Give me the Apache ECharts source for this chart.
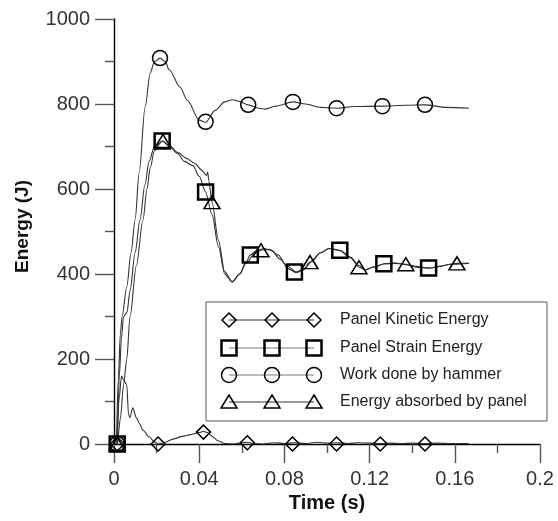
<!DOCTYPE html>
<html>
<head>
<meta charset="utf-8">
<title>Energy history</title>
<script src="https://cdn.jsdelivr.net/npm/echarts@6/dist/echarts.min.js"></script>
<style>
  html, body { margin: 0; padding: 0; background: #fff; }
  #chart { width: 558px; height: 521px; }
</style>
</head>
<body>
<div id="chart"></div>
<script>
// Time (s) / energy (J) traces
const kineticCurve = [
  [0, 0], [0.001, 0], [0.0025, 110], [0.0035, 160], [0.0045, 150], [0.006, 140],
  [0.0068, 70], [0.0075, 62], [0.0088, 85], [0.0105, 62], [0.012, 48], [0.0135, 33],
  [0.0165, 17], [0.019, 5], [0.0207, 0], [0.024, 4], [0.028, 12], [0.032, 18],
  [0.036, 22], [0.040, 27], [0.042, 30], [0.044, 27], [0.046, 18], [0.049, 7],
  [0.052, 1], [0.056, 0], [0.060, 3], [0.0626, 4], [0.066, 1], [0.070, 0],
  [0.075, 3], [0.080, 1], [0.085, 3], [0.090, 1], [0.095, 4], [0.100, 2],
  [0.105, 3], [0.110, 1], [0.115, 3], [0.120, 2], [0.125, 1], [0.130, 2],
  [0.135, 1], [0.140, 2], [0.146, 1], [0.152, 2], [0.158, 1], [0.1666, 1]
];
const strainCurve = [
  [0, 0], [0.0015, 0], [0.003, 60], [0.0045, 140], [0.006, 200], [0.0075, 299],
  [0.0105, 420], [0.0136, 527], [0.0155, 600], [0.017, 650], [0.019, 690],
  [0.0226, 713], [0.026, 700], [0.030, 683], [0.033, 665], [0.037, 655],
  [0.040, 630], [0.043, 593], [0.046, 540], [0.049, 465], [0.052, 400],
  [0.0555, 381], [0.059, 400], [0.062, 428], [0.064, 445], [0.067, 455],
  [0.0705, 460], [0.074, 455], [0.078, 435], [0.082, 412], [0.0855, 403],
  [0.089, 410], [0.093, 430], [0.097, 450], [0.101, 460], [0.106, 456],
  [0.111, 440], [0.115, 420], [0.118, 410], [0.122, 416], [0.127, 424],
  [0.132, 426], [0.137, 422], [0.142, 416], [0.148, 414], [0.153, 418],
  [0.158, 423], [0.1666, 425]
];
const hammerCurve = [
  [0, 0], [0.001, 0], [0.002, 150], [0.003, 260], [0.0038, 300], [0.006, 370],
  [0.008, 450], [0.0099, 527], [0.0118, 638], [0.0146, 793], [0.017, 873],
  [0.019, 900], [0.0216, 908], [0.024, 900], [0.026, 880], [0.031, 840],
  [0.0344, 809], [0.040, 762], [0.043, 757], [0.0475, 785], [0.052, 805],
  [0.0555, 810], [0.059, 806], [0.063, 798], [0.068, 790], [0.071, 788],
  [0.076, 795], [0.084, 805], [0.090, 800], [0.097, 792], [0.1045, 790],
  [0.113, 794], [0.126, 795], [0.137, 797], [0.146, 798], [0.156, 792],
  [0.1666, 790]
];
const absorbedCurve = [
  [0, 0], [0.0015, 0], [0.0025, 160], [0.0035, 250], [0.0045, 300], [0.0061, 310],
  [0.0075, 360], [0.0099, 450], [0.0122, 527], [0.0145, 610], [0.0165, 665],
  [0.019, 700], [0.023, 713], [0.026, 702], [0.030, 686], [0.034, 672],
  [0.038, 660], [0.041, 645], [0.0435, 632], [0.044, 640], [0.0445, 620],
  [0.046, 569], [0.049, 480], [0.052, 405], [0.0555, 382], [0.059, 400],
  [0.062, 425], [0.066, 448], [0.069, 456], [0.073, 458], [0.077, 445],
  [0.081, 420], [0.0855, 405], [0.089, 412], [0.092, 428], [0.097, 450],
  [0.101, 460], [0.106, 455], [0.111, 438], [0.115, 416], [0.118, 410],
  [0.122, 417], [0.127, 424], [0.132, 425], [0.137, 423], [0.142, 418],
  [0.148, 414], [0.153, 418], [0.158, 423], [0.161, 425], [0.1666, 425]
];

// Marker positions along each trace
const kineticMarks = [[0.0015, 0], [0.0207, 0], [0.042, 28], [0.0626, 3], [0.0838, 0], [0.1045, 0], [0.125, 0], [0.146, 0]];
const strainMarks = [[0.0015, 0], [0.0226, 713], [0.043, 593], [0.064, 445], [0.0847, 405], [0.106, 456], [0.1267, 424], [0.1477, 414]];
const hammerMarks = [[0.0015, 0], [0.0216, 908], [0.043, 758], [0.063, 798], [0.084, 805], [0.1045, 790], [0.126, 795], [0.146, 798]];
const absorbedMarks = [[0.0015, 0], [0.023, 713], [0.046, 569], [0.069, 456], [0.092, 428], [0.115, 416], [0.137, 423], [0.161, 425]];

const seriesNames = ['Panel Kinetic Energy', 'Panel Strain Energy', 'Work done by hammer', 'Energy absorbed by panel'];
const xTicks = { min: 0, max: 0.2, step: 0.04 };
const yTicks = { min: 0, max: 1000, step: 200 };

const FONT = '"Liberation Sans", Arial, sans-serif';
const LINE = '#333';

const chart = echarts.init(document.getElementById('chart'), null, { renderer: 'canvas' });

function traceSeries(data) {
  return {
    type: 'line', data: data, showSymbol: false, smooth: 0.3, smoothMonotone: 'x',
    lineStyle: { color: LINE, width: 1.1 }, z: 2, silent: true
  };
}
function markSeries(data, symbol, size, bw) {
  return {
    type: 'scatter', data: data, symbol: symbol, symbolSize: size,
    itemStyle: { color: 'rgba(0,0,0,0)', borderColor: '#000', borderWidth: bw, opacity: 1 },
    z: 4, silent: true
  };
}

// Hand-built legend: three hollow markers joined by a line, then the label
const legendRows = [
  { y: 320, kind: 'diamond' },
  { y: 348, kind: 'square' },
  { y: 375, kind: 'circle' },
  { y: 402, kind: 'triangle' }
];
const legendX = [229, 272, 314];
const legendGraphics = [{
  type: 'rect', shape: { x: 206, y: 302, width: 341, height: 119 },
  style: { fill: '#fff', stroke: '#555', lineWidth: 1 }, z: 10
}];
legendRows.forEach(function (row, i) {
  legendGraphics.push({
    type: 'line', shape: { x1: legendX[0], y1: row.y, x2: legendX[2], y2: row.y },
    style: { stroke: i === 1 || i === 2 ? '#777' : '#333', lineWidth: 1.1 }, z: 11
  });
  legendX.forEach(function (cx) {
    const st = { fill: 'rgba(0,0,0,0)', stroke: '#000', lineWidth: 1.5 };
    if (row.kind === 'diamond') {
      legendGraphics.push({ type: 'polygon', shape: { points: [[cx, row.y - 7], [cx + 7, row.y], [cx, row.y + 7], [cx - 7, row.y]] }, style: st, z: 12 });
    } else if (row.kind === 'square') {
      legendGraphics.push({ type: 'rect', shape: { x: cx - 7.5, y: row.y - 7.5, width: 15, height: 15 }, style: Object.assign({}, st, { lineWidth: 2.5 }), z: 12 });
    } else if (row.kind === 'circle') {
      legendGraphics.push({ type: 'circle', shape: { cx: cx, cy: row.y, r: 7.5 }, style: st, z: 12 });
    } else {
      legendGraphics.push({ type: 'polygon', shape: { points: [[cx, row.y - 7], [cx + 8, row.y + 6], [cx - 8, row.y + 6]] }, style: st, z: 12 });
    }
  });
  legendGraphics.push({
    type: 'text', x: 340, y: row.y,
    style: { text: seriesNames[i], fill: '#222', font: '16px ' + FONT, verticalAlign: 'middle', textAlign: 'left' },
    z: 12
  });
});

const axisCommon = {
  axisLine: { show: true, onZero: false, lineStyle: { color: '#000', width: 1.4 } },
  axisTick: { show: true, inside: false, length: 19, lineStyle: { color: '#555', width: 1.4 } },
  minorTick: { show: true, splitNumber: 2, length: 9, lineStyle: { color: '#555', width: 1.4 } },
  splitLine: { show: false },
  minorSplitLine: { show: false },
  axisLabel: { color: '#333', fontSize: 20, fontFamily: FONT, margin: 24 },
  nameTextStyle: { color: '#111', fontSize: 20, fontWeight: 'bold', fontFamily: FONT }
};

chart.setOption({
  animation: false,
  backgroundColor: '#fff',
  grid: { left: 114, right: 18, top: 19, bottom: 77, containLabel: false },
  xAxis: Object.assign({}, axisCommon, {
    type: 'value', min: xTicks.min, max: xTicks.max, interval: xTicks.step,
    name: 'Time (s)', nameLocation: 'middle', nameGap: 49,
    axisLabel: Object.assign({}, axisCommon.axisLabel, { margin: 25, formatter: function (v) { return String(+v.toFixed(2)); } })
  }),
  yAxis: Object.assign({}, axisCommon, {
    type: 'value', min: yTicks.min, max: yTicks.max, interval: yTicks.step,
    name: 'Energy (J)', nameLocation: 'middle', nameGap: 82,
    axisLabel: Object.assign({}, axisCommon.axisLabel, { formatter: function (v) { return String(v); } }),
    nameTextStyle: Object.assign({}, axisCommon.nameTextStyle, { fontSize: 19, padding: [0, 0, 0, 10] })
  }),
  series: [
    traceSeries(kineticCurve),
    traceSeries(strainCurve),
    traceSeries(hammerCurve),
    traceSeries(absorbedCurve),
    markSeries(kineticMarks, 'diamond', 14, 1.5),
    markSeries(strainMarks, 'rect', 15, 2.5),
    markSeries(hammerMarks, 'circle', 15, 1.5),
    markSeries(absorbedMarks, 'triangle', [16, 13], 1.5)
  ],
  graphic: legendGraphics
});
</script>
</body>
</html>
